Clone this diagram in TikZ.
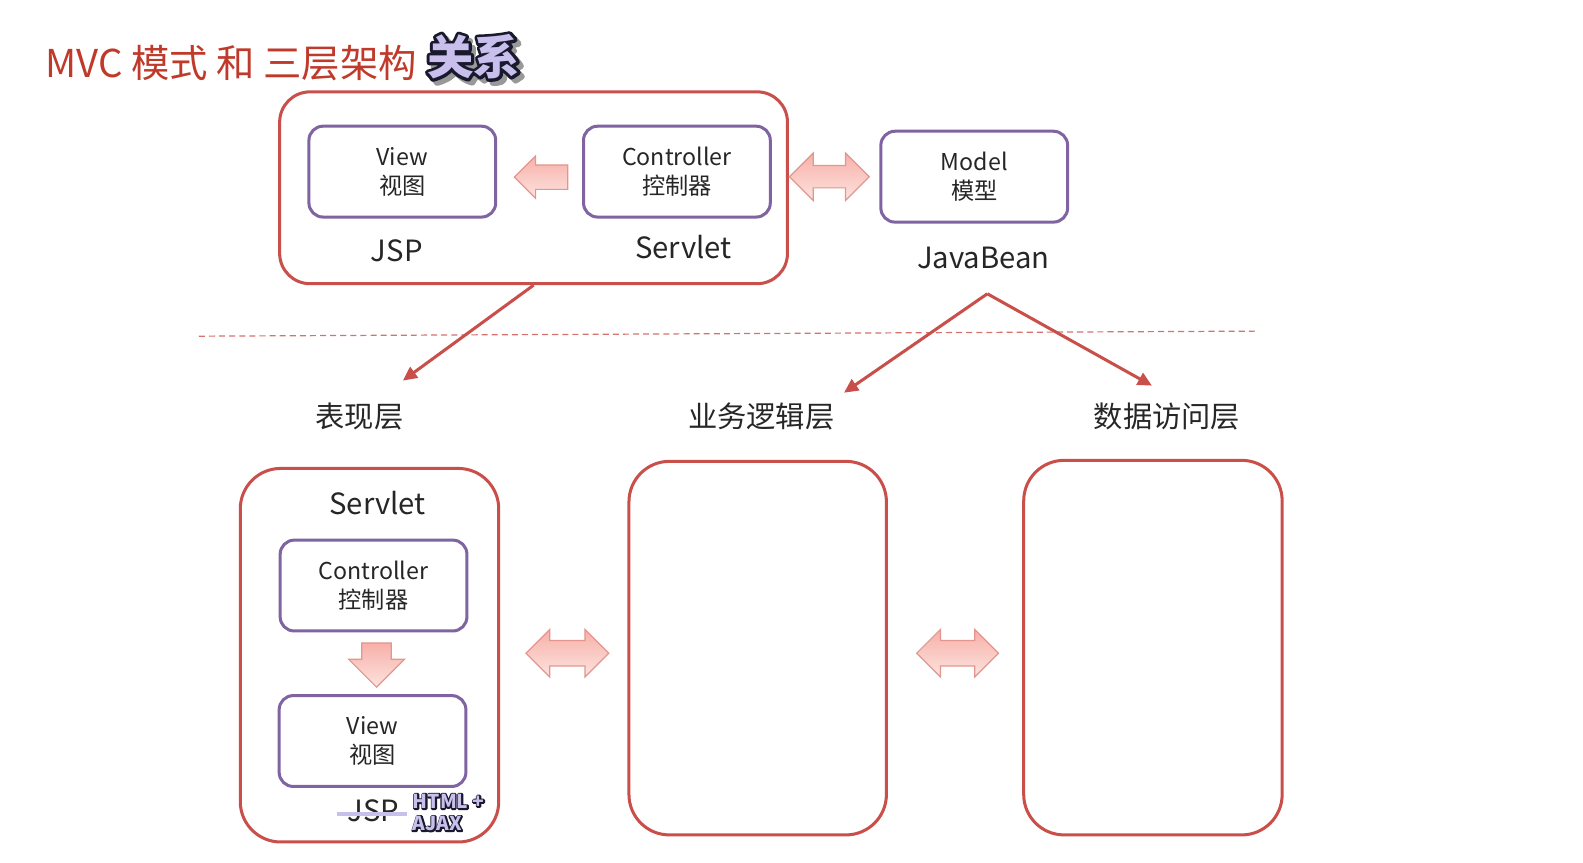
\documentclass[tikz,border=0pt]{standalone}
\usepackage{fontspec}
\setmainfont{Noto Sans CJK SC}
\usepackage{tikz}
\usetikzlibrary{shapes.arrows,arrows.meta}

\definecolor{boxred}{HTML}{C9504A}
\definecolor{boxpurple}{HTML}{8064A2}
\definecolor{titlered}{HTML}{BF3A2B}
\definecolor{textgray}{HTML}{262626}
\definecolor{lavender}{HTML}{C8BFEC}
\definecolor{pinktop}{HTML}{F7B0A8}
\definecolor{pinkbottom}{HTML}{FDE3DF}
\definecolor{pinkline}{HTML}{E2968F}

% stroked copy underneath, plain copy on top: dark outline round lavender glyphs
\newcommand{\outlined}[2]{\rlap{\special{pdf:literal direct 2 Tr #1 w 1 j 0.1 0.1 0.18 RG}#2\special{pdf:literal direct 0 Tr}}#2}
\newcommand{\shadowed}[2]{\rlap{\kern2pt\raisebox{-2pt}{\textcolor{gray!60}{\special{pdf:literal direct 2 Tr #1 w 1 j 0.6 0.6 0.6 RG}#2\special{pdf:literal direct 0 Tr}}}}\outlined{#1}{#2}}

\begin{document}
\begin{tikzpicture}[x=0.5pt, y=-0.5pt,
    redbox/.style={draw=boxred, line width=1.5pt, rounded corners=15pt},
    purplebox/.style={draw=boxpurple, line width=1.5pt, rounded corners=7pt, minimum width=92.5pt, minimum height=45pt, align=center, text=textgray, font=\fontsize{11.5}{14.5}\selectfont},
    bigtext/.style={text=textgray, font=\fontsize{14.5}{17}\selectfont},
    pinkarrow/.style={top color=pinktop, bottom color=pinkbottom, draw=pinkline, line width=0.6pt},
    redarrow/.style={draw=boxred, line width=1.5pt, -{Triangle[length=7pt,width=6.5pt]}}]
    \useasboundingbox (0,0) rectangle (1568,854);

    \node[anchor=west, text=titlered, font=\fontsize{19}{19}\selectfont] (title) at (38,63) {MVC 模式 和 三层架构};
    \node[anchor=west, text=lavender, font=\fontsize{23}{23}\selectfont\bfseries] (relation) at (416,58) {\shadowed{3}{关系}};

    \node[redbox, minimum width=251.5pt, minimum height=95pt] (mvc) at (528.5,186) {};
    \node[purplebox] (view) at (398.5,170) {View\\视图};
    \node[purplebox] (ctrl) at (670.5,170) {Controller\\控制器};
    \node[purplebox] (model) at (965,175) {Model\\模型};
    \node[bigtext] (jsp) at (393,248) {JSP};
    \node[bigtext] (servlet) at (677,245) {Servlet};
    \node[bigtext] (javabean) at (974,256) {JavaBean};
    \node[single arrow, pinkarrow, shape border rotate=180, inner sep=5.75pt, minimum height=26.5pt, single arrow head extend=4.5pt] (toview) at (542,175.5) {};
    \node[double arrow, pinkarrow, inner sep=5.25pt, minimum height=39.5pt, double arrow head extend=6.25pt] (ctrlmodel) at (821.5,175) {};

    \coordinate (divl) at (197,333);
    \coordinate (divr) at (1244,328);
    \draw[boxred!80, line width=0.6pt, dash pattern=on 3pt off 2pt] (divl) -- (divr);

    \coordinate (fork) at (978,291);
    \coordinate (toweb) at (399,377);
    \coordinate (tobiz) at (836,389);
    \coordinate (todao) at (1141,382);
    \draw[redarrow] (mvc.south) -- (toweb);
    \draw[redarrow] (fork) -- (tobiz);
    \draw[redarrow] (fork) -- (todao);

    \node[bigtext] (webtitle) at (356,413) {表现层};
    \node[bigtext] (biztitle) at (754,413) {业务逻辑层};
    \node[bigtext] (daotitle) at (1156,413) {数据访问层};

    \node[redbox, rounded corners=20pt, minimum width=128pt, minimum height=185pt] (web) at (366,649) {};
    \node[redbox, rounded corners=20pt, minimum width=127.5pt, minimum height=185pt] (biz) at (750.5,642) {};
    \node[redbox, rounded corners=20pt, minimum width=128pt, minimum height=185.5pt] (dao) at (1142,641.5) {};

    \node[bigtext] (servlet2) at (374,498) {Servlet};
    \node[purplebox] (ctrl2) at (370,580) {Controller\\控制器};
    \node[purplebox] (view2) at (369,734) {View\\视图};
    \node[single arrow, pinkarrow, shape border rotate=270, inner sep=7pt, minimum height=19.5pt, single arrow head extend=6.5pt] (toview2) at (373,651.5) {};
    \node[double arrow, pinkarrow, inner sep=6pt, minimum height=41pt, double arrow head extend=5.5pt] (webbiz) at (562,647) {};
    \node[double arrow, pinkarrow, inner sep=6pt, minimum height=40.5pt, double arrow head extend=5.5pt] (bizdao) at (948.5,647) {};

    \node[bigtext] (jspold) at (370,803) {JSP};
    \coordinate (strikel) at (334,806);
    \coordinate (striker) at (403,806);
    \draw[lavender, line width=2pt] (strikel) -- (striker);
    \node[anchor=west, align=left, text=lavender, font=\fontsize{9.5}{11}\selectfont\bfseries] (ajax) at (402,805) {\outlined{1.4}{HTML +}\\\outlined{1.4}{AJAX}};
\end{tikzpicture}
\end{document}
